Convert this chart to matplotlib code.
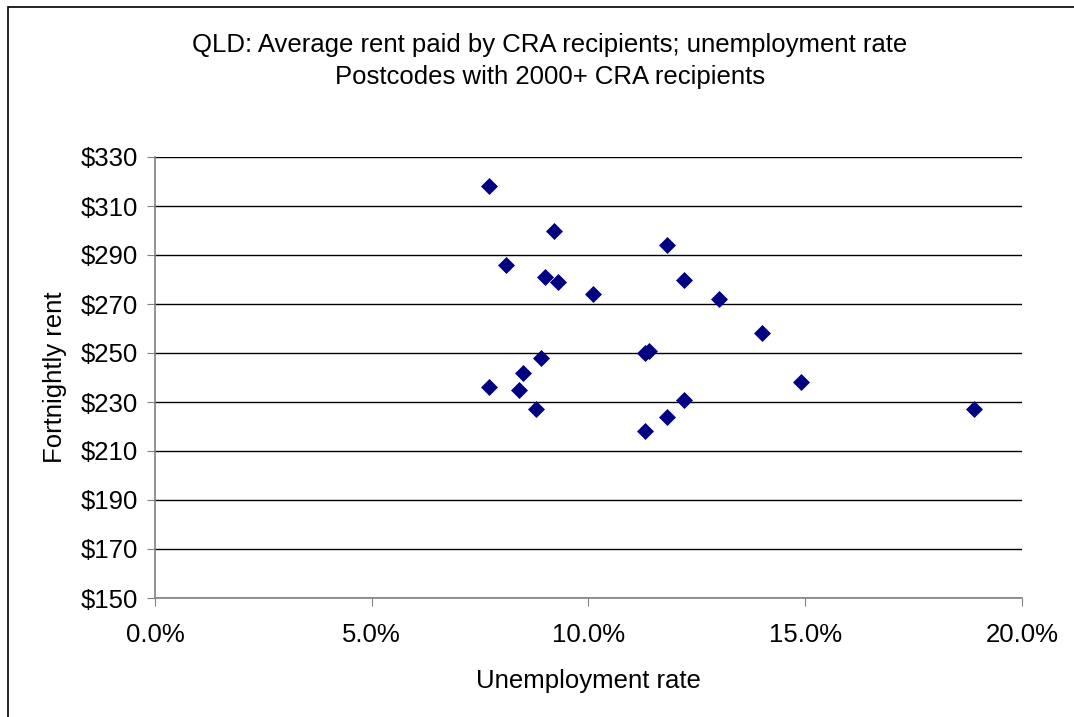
import matplotlib.pyplot as plt
from matplotlib.patches import Rectangle
from matplotlib.ticker import FuncFormatter, FixedLocator

plt.rcParams['font.family'] = ['Liberation Sans', 'DejaVu Sans']

# unemployment rate (%) and average fortnightly rent ($) per postcode
unemployment = [7.7, 9.2, 11.8, 8.1, 9.0, 9.3, 10.1, 12.2, 13.0, 14.0, 11.3,
                11.4, 14.9, 18.9, 12.2, 11.8, 11.3, 8.9, 8.5, 7.7, 8.4, 8.8]
rent = [318, 300, 294, 286, 281, 279, 274, 280, 272, 258, 250,
        251, 238, 227, 231, 224, 218, 248, 242, 236, 235, 227]

x_ticks = [0, 5, 10, 15, 20]
y_ticks = [150, 170, 190, 210, 230, 250, 270, 290, 310, 330]

title = ('QLD: Average rent paid by CRA recipients; unemployment rate\n'
         'Postcodes with 2000+ CRA recipients')

fig = plt.figure(figsize=(10.74, 7.17), dpi=100)
ax = fig.add_axes([155 / 1074, 1 - 598 / 717, (1022 - 155) / 1074, (598 - 157) / 717])

# chart border (left and top edges visible)
fig.patches.append(Rectangle((8 / 1074, -0.1), 1.2, 1 - 7 / 717 + 0.1,
                             transform=fig.transFigure, fill=False,
                             edgecolor='black', linewidth=1.2))

ax.scatter(unemployment, rent, marker='D', s=75, color='#000080', zorder=3,
           linewidths=0)

ax.set_xlim(0, 20)
ax.set_ylim(150, 330)
ax.xaxis.set_major_locator(FixedLocator(x_ticks))
ax.yaxis.set_major_locator(FixedLocator(y_ticks))
ax.xaxis.set_major_formatter(FuncFormatter(lambda v, p: f'{v:.1f}%'))
ax.yaxis.set_major_formatter(FuncFormatter(lambda v, p: f'${v:.0f}'))

ax.grid(axis='y', color='black', linewidth=1)
ax.set_axisbelow(True)
for s in ['top', 'right']:
    ax.spines[s].set_visible(False)
for s in ['left', 'bottom']:
    ax.spines[s].set_color('#808080')
    ax.spines[s].set_linewidth(1.2)

ax.tick_params(axis='both', labelsize=18.5, length=6, color='#808080',
               direction='out')
ax.tick_params(axis='x', pad=12)
ax.tick_params(axis='y', pad=6)

ax.set_xlabel('Unemployment rate', fontsize=18.5, labelpad=16)
ax.set_ylabel('Fortnightly rent', fontsize=18.5, labelpad=10)

fig.text(550 / 1074, 1 - 61 / 717, title, ha='center', va='center',
         fontsize=18.5, linespacing=1.45)

fig.savefig('out.png', dpi=100)
